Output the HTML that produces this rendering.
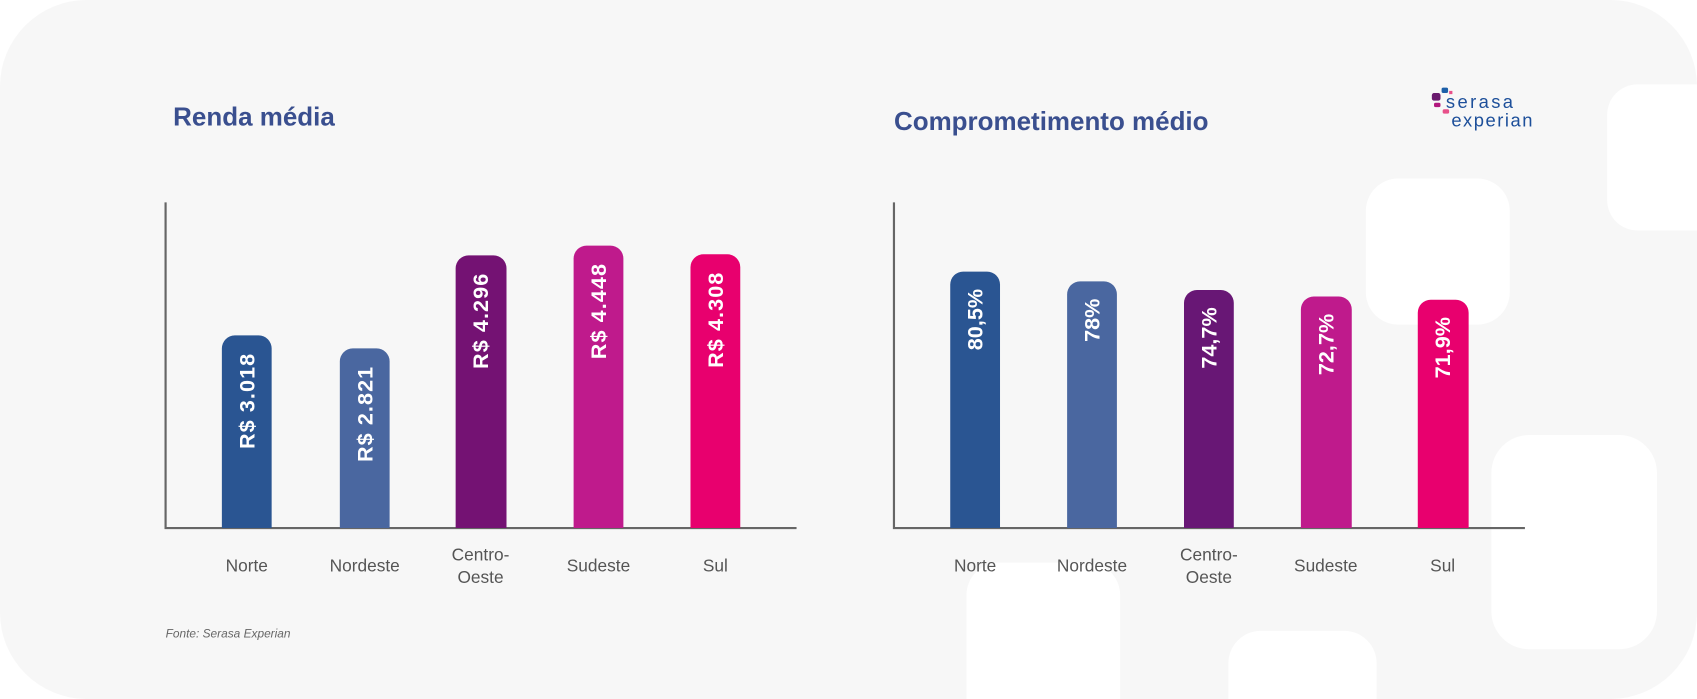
<!DOCTYPE html>
<html><head><meta charset="utf-8"><style>html,body{margin:0;padding:0;background:#fff;width:1697px;height:699px;overflow:hidden}svg{display:block}</style></head><body>
<svg width="1697" height="699" viewBox="0 0 1568 646" preserveAspectRatio="none" font-family="Liberation Sans, sans-serif">
<defs><clipPath id="c"><rect x="0" y="0" width="1568" height="646" rx="80"/></clipPath></defs>
<rect x="0" y="0" width="1568" height="646" rx="80" fill="#f7f7f7"/>
<g fill="#ffffff" clip-path="url(#c)">
<rect x="1485" y="78" width="140" height="135" rx="28"/>
<rect x="1262" y="165" width="133" height="135" rx="30"/>
<rect x="1378" y="402" width="153" height="198" rx="35"/>
<rect x="893" y="520" width="142" height="160" rx="30"/>
<rect x="1135" y="583" width="137" height="100" rx="30"/>
</g>
<text x="160" y="116" font-size="24" font-weight="bold" fill="#3a4f8f">Renda média</text>
<text x="826" y="120" font-size="24" font-weight="bold" fill="#3a4f8f">Comprometimento médio</text>
<g>
<rect x="1323" y="86" width="8" height="7" rx="2" fill="#6a1a6e"/>
<rect x="1332" y="81" width="6" height="5" rx="1.5" fill="#1d5fa8"/>
<rect x="1325" y="95" width="6" height="4" rx="1.5" fill="#b2187e"/>
<rect x="1333" y="101" width="6" height="4" rx="1.5" fill="#e8508a"/>
<rect x="1339" y="84" width="3" height="3" fill="#e8508a"/>
<text x="1336" y="100" font-size="17" fill="#1d4f9a" textLength="62">serasa</text>
<text x="1341" y="117" font-size="17" fill="#1d4f9a" textLength="75">experian</text>
</g>
<g stroke="#666" stroke-width="2" fill="none">
<path d="M153 187 V488 H736"/>
<path d="M826 187 V488 H1409"/>
</g>
<g font-size="20" font-weight="bold" fill="#fff" text-anchor="end">
<path d="M205 488 V322 a12 12 0 0 1 12 -12 h22 a12 12 0 0 1 12 12 V488Z" fill="#2a5592"/>
<text transform="translate(235,327) rotate(-90)" textLength="88">R$ 3.018</text>
<path d="M314 488 V334 a12 12 0 0 1 12 -12 h22 a12 12 0 0 1 12 12 V488Z" fill="#4a67a0"/>
<text transform="translate(344,339) rotate(-90)" textLength="88">R$ 2.821</text>
<path d="M421 488 V248 a12 12 0 0 1 12 -12 h23 a12 12 0 0 1 12 12 V488Z" fill="#741273"/>
<text transform="translate(451,253) rotate(-90)" textLength="88">R$ 4.296</text>
<path d="M530 488 V239 a12 12 0 0 1 12 -12 h22 a12 12 0 0 1 12 12 V488Z" fill="#bf1a8c"/>
<text transform="translate(560,244) rotate(-90)" textLength="88">R$ 4.448</text>
<path d="M638 488 V247 a12 12 0 0 1 12 -12 h22 a12 12 0 0 1 12 12 V488Z" fill="#e8006e"/>
<text transform="translate(668,252) rotate(-90)" textLength="88">R$ 4.308</text>

<path d="M878 488 V263 a12 12 0 0 1 12 -12 h22 a12 12 0 0 1 12 12 V488Z" fill="#2a5592"/>
<text transform="translate(908,267) rotate(-90)">80,5%</text>
<path d="M986 488 V272 a12 12 0 0 1 12 -12 h22 a12 12 0 0 1 12 12 V488Z" fill="#4a67a0"/>
<text transform="translate(1016,276) rotate(-90)">78%</text>
<path d="M1094 488 V280 a12 12 0 0 1 12 -12 h22 a12 12 0 0 1 12 12 V488Z" fill="#681775"/>
<text transform="translate(1124,284) rotate(-90)">74,7%</text>
<path d="M1202 488 V286 a12 12 0 0 1 12 -12 h23 a12 12 0 0 1 12 12 V488Z" fill="#bf1a8c"/>
<text transform="translate(1232,290) rotate(-90)">72,7%</text>
<path d="M1310 488 V289 a12 12 0 0 1 12 -12 h23 a12 12 0 0 1 12 12 V488Z" fill="#e8006e"/>
<text transform="translate(1340,293) rotate(-90)">71,9%</text>
</g>
<g font-size="16" fill="#555" text-anchor="middle">
<text x="228" y="528">Norte</text>
<text x="337" y="528">Nordeste</text>
<text x="444" y="518">Centro-</text><text x="444" y="539">Oeste</text>
<text x="553" y="528">Sudeste</text>
<text x="661" y="528">Sul</text>
<text x="901" y="528">Norte</text>
<text x="1009" y="528">Nordeste</text>
<text x="1117" y="518">Centro-</text><text x="1117" y="539">Oeste</text>
<text x="1225" y="528">Sudeste</text>
<text x="1333" y="528">Sul</text>
</g>
<text x="153" y="589" font-size="11" font-style="italic" fill="#666">Fonte: Serasa Experian</text>
</svg>
</body></html>
